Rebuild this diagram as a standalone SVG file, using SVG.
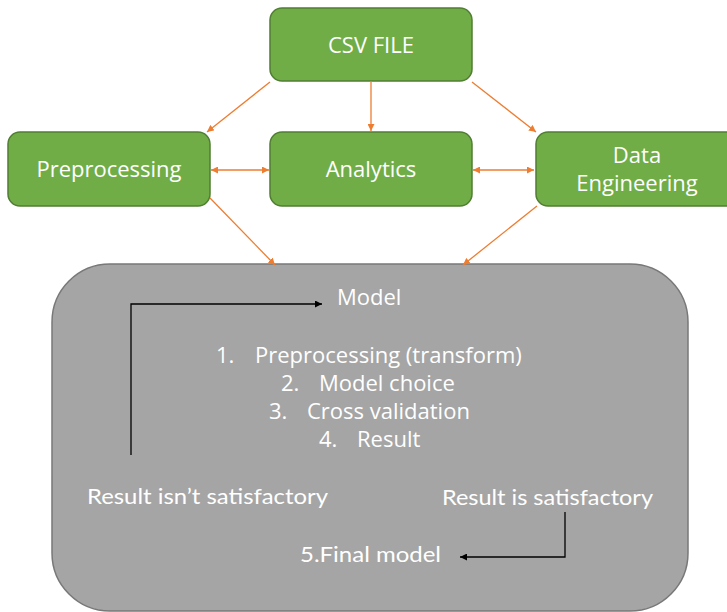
<svg xmlns="http://www.w3.org/2000/svg" width="727" height="612" viewBox="0 0 727 612">
  <style>
    .step { fill: #70ad47; stroke: #507e32; stroke-width: 1.5; }
    .stage { fill: #a5a5a5; stroke: #787878; stroke-width: 1.5; }
    .label { fill: #ffffff; font-family: "Open Sans", "Noto Sans", sans-serif; font-size: 22px; }
    .note { fill: #ffffff; font-family: Lato, "Open Sans", sans-serif; font-size: 22px; }
    .flow { stroke: #ed7d31; stroke-width: 1.3; fill: none; }
    .loop { stroke: #000000; stroke-width: 1.3; fill: none; }
  </style>
  <defs>
    <marker id="orangeHead" viewBox="0 0 10 10" refX="10" refY="5" markerWidth="7" markerHeight="7" markerUnits="userSpaceOnUse" orient="auto-start-reverse">
      <path d="M0,0 L10,5 L0,10 z" fill="#ed7d31"/>
    </marker>
    <marker id="blackHead" viewBox="0 0 10 10" refX="10" refY="5" markerWidth="8" markerHeight="7" markerUnits="userSpaceOnUse" orient="auto-start-reverse">
      <path d="M0,0 L10,5 L0,10 z" fill="#000000"/>
    </marker>
  </defs>

  <!-- modelling stage -->
  <g id="model-stage">
    <rect class="stage" x="52" y="264" width="636" height="347" rx="58" ry="58"/>
    <text class="label" x="337" y="305">Model</text>
    <text class="label" y="363"><tspan x="216">1.</tspan><tspan x="255">Preprocessing (transform)</tspan></text>
    <text class="label" y="391"><tspan x="281">2.</tspan><tspan x="319">Model choice</tspan></text>
    <text class="label" y="419"><tspan x="269">3.</tspan><tspan x="307">Cross validation</tspan></text>
    <text class="label" y="447"><tspan x="319">4.</tspan><tspan x="357">Result</tspan></text>
    <text class="note" x="87" y="504" textLength="241" lengthAdjust="spacingAndGlyphs">Result isn’t satisfactory</text>
    <text class="note" x="442" y="505" textLength="211" lengthAdjust="spacingAndGlyphs">Result is satisfactory</text>
    <text class="note" x="300" y="562" textLength="141" lengthAdjust="spacingAndGlyphs">5.Final model</text>
  </g>

  <g id="csv-file">
    <rect class="step" x="270" y="8" width="202" height="73" rx="12" ry="12"/>
    <text class="label" x="371" y="53" text-anchor="middle">CSV FILE</text>
  </g>
  <g id="preprocessing">
    <rect class="step" x="8" y="132" width="202" height="74" rx="12" ry="12"/>
    <text class="label" x="109" y="177" text-anchor="middle">Preprocessing</text>
  </g>
  <g id="analytics">
    <rect class="step" x="270" y="132" width="202" height="74" rx="12" ry="12"/>
    <text class="label" x="371" y="177" text-anchor="middle">Analytics</text>
  </g>
  <g id="data-engineering">
    <rect class="step" x="536" y="132" width="202" height="74" rx="12" ry="12"/>
    <text class="label" x="637" y="163" text-anchor="middle">Data</text>
    <text class="label" x="637" y="191" text-anchor="middle">Engineering</text>
  </g>

  <g id="connectors">
    <line class="flow" x1="371" y1="81" x2="371" y2="131" marker-end="url(#orangeHead)"/>
    <line class="flow" x1="270" y1="82" x2="207" y2="132" marker-end="url(#orangeHead)"/>
    <line class="flow" x1="472" y1="82" x2="536" y2="132" marker-end="url(#orangeHead)"/>
    <line class="flow" x1="211" y1="170" x2="269" y2="170" marker-start="url(#orangeHead)" marker-end="url(#orangeHead)"/>
    <line class="flow" x1="473" y1="170" x2="534" y2="170" marker-start="url(#orangeHead)" marker-end="url(#orangeHead)"/>
    <line class="flow" x1="210" y1="198" x2="275" y2="265" marker-end="url(#orangeHead)"/>
    <line class="flow" x1="537" y1="206" x2="463" y2="265" marker-end="url(#orangeHead)"/>
    <polyline class="loop" points="131,455 131,304 322,304" marker-end="url(#blackHead)"/>
    <polyline class="loop" points="565,512 565,557 460,557" marker-end="url(#blackHead)"/>
  </g>
</svg>
